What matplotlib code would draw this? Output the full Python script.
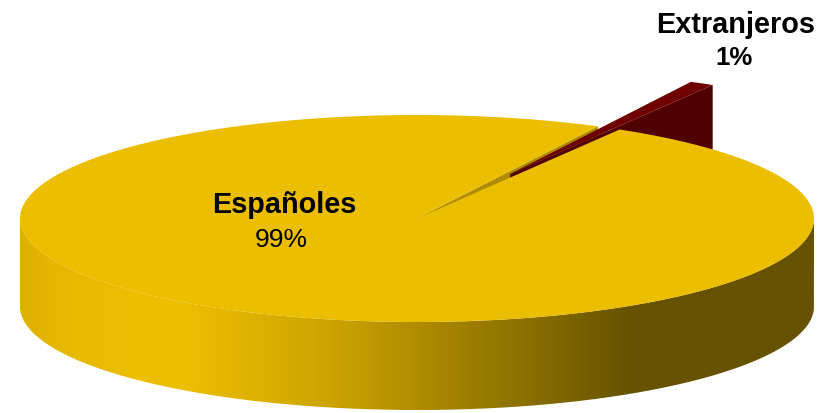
import matplotlib
matplotlib.use('Agg')
import matplotlib.pyplot as plt
import numpy as np
from matplotlib.colors import LinearSegmentedColormap
from matplotlib.patches import PathPatch, Polygon
from matplotlib.path import Path

labels = ['Españoles', 'Extranjeros']
values = [99, 1]

YELLOW = '#ECBE00'
OLIVE = '#AE8C00'
RED_TOP = '#700000'
RED_WALL = '#500000'

# shading along the rim, left to right
rim_stops = [0.0, 0.05, 0.14, 0.21, 0.39, 0.5, 0.64, 0.77, 1.0]
rim_colors = ['#DDB100', '#E6B900', '#ECBE00', '#ECBE00', '#CCA400', '#B08C00', '#8A6F00', '#665200', '#665200']

CX, CY = 417, 218.5
RX, RY = 397, 103.5
DEPTH = 88
START = 59.3
OFFSET = (93, -44.5)


def rim_xy(t):
    t = np.radians(t)
    return CX + RX * np.cos(t), CY - RY * np.sin(t)


def sector(t0, t1, dx=0, dy=0):
    t = np.linspace(t0, t1, 400)
    x, y = rim_xy(t)
    return np.column_stack([np.r_[CX, x] + dx, np.r_[CY, y] + dy])


sweep = [360.0 * v / sum(values) for v in values]
big0 = START + sweep[1]
big1 = big0 + sweep[0]

fig = plt.figure(figsize=(8.19, 4.13), dpi=100)
ax = fig.add_axes([0, 0, 1, 1])
ax.set_xlim(0, 819)
ax.set_ylim(413, 0)
ax.axis('off')

# inner wall seen through the notch left by the small slice
x1, y1 = rim_xy(big0)
ax.add_patch(Polygon([(CX, CY), (x1, y1), (x1, y1 + DEPTH), (CX, CY + DEPTH)],
                     fc=OLIVE, ec='none', zorder=1))

# small slice, pulled away from the centre
small = sector(START, big0, *OFFSET)
ax_, ay_ = small[0]
bx_, by_ = small[1]
ax.add_patch(Polygon([(ax_, ay_), (bx_, by_), (bx_, by_ + DEPTH), (ax_, ay_ + DEPTH)],
                     fc=RED_WALL, ec='none', zorder=2))
ax.add_patch(Polygon(small, fc=RED_TOP, ec='none', zorder=3))

# rim of the big slice, a horizontal gradient clipped to the lower half band
t = np.linspace(180, 360, 300)
x, y = rim_xy(t)
band = np.vstack([np.column_stack([x, y]), np.column_stack([x[::-1], y[::-1] + DEPTH])])
cmap = LinearSegmentedColormap.from_list('rim', list(zip(rim_stops, rim_colors)))
im = ax.imshow(np.linspace(0, 1, 512)[None, :], cmap=cmap, vmin=0, vmax=1, aspect='auto',
               extent=(CX - RX, CX + RX, 413, 0), zorder=4, interpolation='bilinear')
im.set_clip_path(PathPatch(Path(band), transform=ax.transData))
ax.set_xlim(0, 819)
ax.set_ylim(413, 0)

# top of the big slice
ax.add_patch(Polygon(sector(big0, big1), fc=YELLOW, ec='none', zorder=5))

font = dict(ha='center', va='center', family='Liberation Sans', color='black', zorder=6)
ax.text(284, 205, labels[0], weight='bold', fontsize=20.8, **font)
ax.text(281, 240, '%d%%' % values[0], weight='normal', fontsize=19, **font)
ax.text(736, 25, labels[1], weight='bold', fontsize=20.8, **font)
ax.text(734, 58, '%d%%' % values[1], weight='bold', fontsize=18.5, **font)

fig.savefig('out.png', dpi=100, facecolor='white')
